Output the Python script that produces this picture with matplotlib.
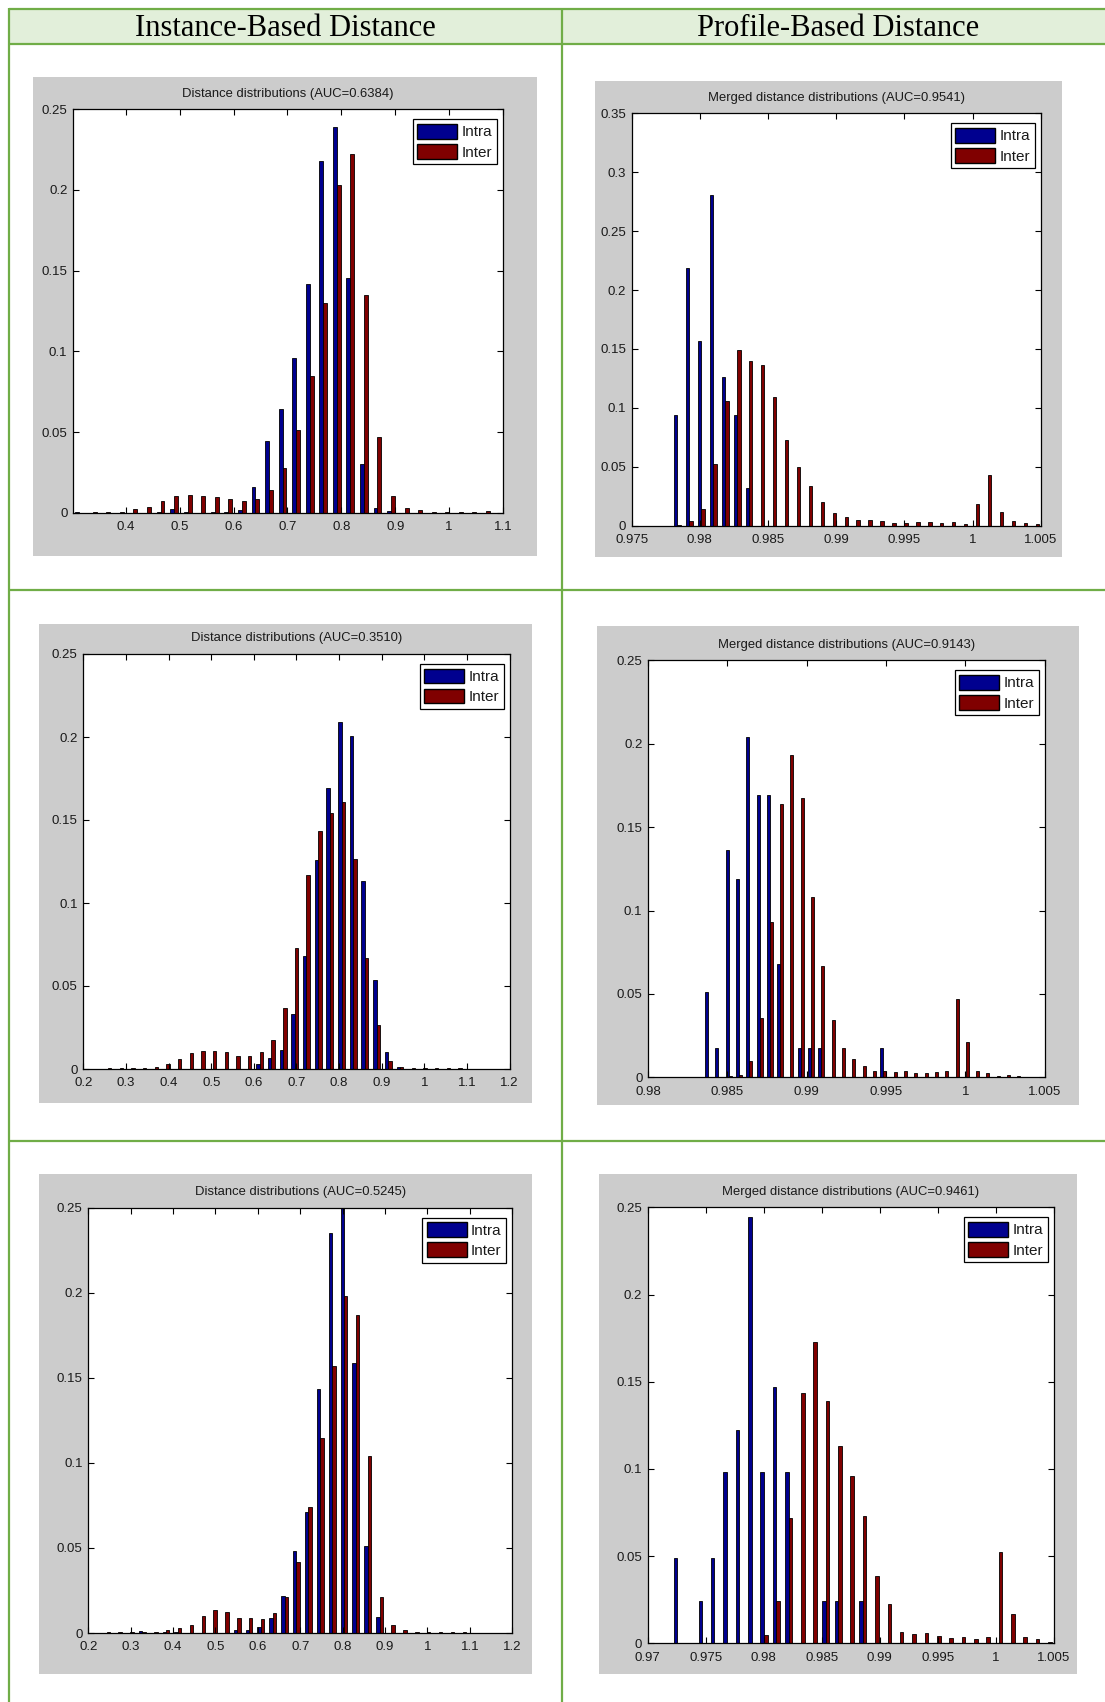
import matplotlib
matplotlib.use("Agg")
import matplotlib.pyplot as plt
import numpy as np
from matplotlib.patches import Rectangle, Patch
from matplotlib.lines import Line2D
from matplotlib.ticker import FuncFormatter
from matplotlib import font_manager

# ---- data (histogram bin heights, 31 bins each) ----
headers = ["Instance-Based Distance", "Profile-Based Distance"]
series_names = ["Intra", "Inter"]

titles = [
    "Distance distributions (AUC=0.6384)",
    "Merged distance distributions (AUC=0.9541)",
    "Distance distributions (AUC=0.3510)",
    "Merged distance distributions (AUC=0.9143)",
    "Distance distributions (AUC=0.5245)",
    "Merged distance distributions (AUC=0.9461)",
]

# first / last bin centre of each histogram
bin_range = [
    (0.3135, 1.0683),
    (0.97835, 1.00462),
    (0.2578, 1.0795),
    (0.98378, 1.00328),
    (0.2432, 1.0828),
    (0.97256, 1.0045),
]

intra1 = [0.0005, 0, 0, 0, 0, 0, 0.0005, 0.0025, 0.0005, 0, 0.0005, 0.0005, 0.0015,
          0.016, 0.0446, 0.0645, 0.0959, 0.142, 0.218, 0.239, 0.1457, 0.0302, 0.003,
          0.001, 0, 0, 0, 0, 0, 0, 0]
inter1 = [0, 0.0005, 0.0005, 0.0005, 0.0025, 0.0037, 0.007, 0.0103, 0.011, 0.0103,
          0.0095, 0.0083, 0.0074, 0.0087, 0.0138, 0.0279, 0.0512, 0.085, 0.130, 0.203,
          0.2225, 0.1347, 0.0471, 0.0101, 0.003, 0.0015, 0.0005, 0.0005, 0.0005,
          0.0005, 0.0008]

intra2 = [0.0942, 0.219, 0.157, 0.281, 0.126, 0.094, 0.032, 0, 0, 0, 0, 0, 0, 0, 0,
          0, 0, 0, 0, 0, 0, 0, 0, 0, 0, 0, 0, 0, 0, 0, 0]
inter2 = [0.001, 0.004, 0.0144, 0.0523, 0.1055, 0.149, 0.140, 0.136, 0.1095, 0.0727,
          0.050, 0.0337, 0.020, 0.0105, 0.0075, 0.005, 0.005, 0.004, 0.0023, 0.002,
          0.0033, 0.0033, 0.0023, 0.003, 0.0012, 0.018, 0.0433, 0.0113, 0.004,
          0.0025, 0.0015]

intra3 = [0, 0, 0, 0, 0, 0, 0, 0, 0, 0, 0, 0, 0, 0.003, 0.0066, 0.0116, 0.033, 0.068,
          0.126, 0.169, 0.209, 0.2006, 0.1135, 0.0534, 0.0102, 0.0013, 0, 0, 0, 0, 0]
inter3 = [0.0005, 0.0005, 0.0005, 0.0005, 0.0014, 0.003, 0.006, 0.0096, 0.011, 0.011,
          0.0104, 0.008, 0.008, 0.0102, 0.0175, 0.037, 0.073, 0.117, 0.1436, 0.154,
          0.161, 0.1267, 0.0667, 0.0265, 0.005, 0.0013, 0.0005, 0.0005, 0.0005,
          0.0005, 0.0005]

intra4 = [0.0512, 0.0176, 0.136, 0.119, 0.204, 0.1695, 0.1695, 0.068, 0, 0.0176,
          0.0176, 0.0176, 0, 0, 0, 0, 0, 0.0176, 0, 0, 0, 0, 0, 0, 0, 0, 0, 0, 0, 0, 0]
inter4 = [0, 0, 0.0006, 0.0014, 0.0096, 0.0358, 0.0931, 0.1637, 0.193, 0.1675,
          0.1083, 0.0665, 0.0344, 0.0176, 0.011, 0.0066, 0.0038, 0.0038, 0.003,
          0.0038, 0.0024, 0.0024, 0.003, 0.0038, 0.0468, 0.0212, 0.0038, 0.0024,
          0.0008, 0.0014, 0.0008]

intra5 = [0, 0, 0, 0.0013, 0, 0.0005, 0.0008, 0, 0, 0, 0, 0.0016, 0.0016, 0.0035,
          0.009, 0.022, 0.0484, 0.0711, 0.1434, 0.2353, 0.26, 0.1587, 0.0513, 0.0096,
          0, 0, 0, 0, 0, 0, 0]
inter5 = [0.0005, 0.0005, 0.0005, 0.0005, 0.0005, 0.0016, 0.003, 0.0045, 0.0098,
          0.0133, 0.0125, 0.009, 0.009, 0.0084, 0.0118, 0.0214, 0.042, 0.074, 0.1148,
          0.1571, 0.198, 0.187, 0.1038, 0.0214, 0.0045, 0.0016, 0.0008, 0.0008,
          0.0005, 0.0005, 0.0005]

intra6 = [0.0487, 0, 0.0244, 0.0487, 0.098, 0.1223, 0.2443, 0.098, 0.147, 0.098, 0, 0,
          0.0243, 0.0243, 0, 0.0243, 0, 0, 0, 0, 0, 0, 0, 0, 0, 0, 0, 0, 0, 0, 0]
inter6 = [0, 0, 0, 0, 0, 0, 0, 0.005, 0.0243, 0.0717, 0.1433, 0.1726, 0.139, 0.1133,
          0.096, 0.0732, 0.0388, 0.0226, 0.0065, 0.0052, 0.0057, 0.0044, 0.003, 0.0034,
          0.0023, 0.0034, 0.0526, 0.0168, 0.0034, 0.0025, 0.0008]

intra_all = [intra1, intra2, intra3, intra4, intra5, intra6]
inter_all = [inter1, inter2, inter3, inter4, inter5, inter6]

xlims = [(0.302, 1.1), (0.975, 1.005), (0.2, 1.2), (0.98, 1.005), (0.2, 1.2), (0.97, 1.005)]
ylims = [(0, 0.25), (0, 0.35), (0, 0.25), (0, 0.25), (0, 0.25), (0, 0.25)]
xtick_vals = [
    [0.4, 0.5, 0.6, 0.7, 0.8, 0.9, 1.0, 1.1],
    [0.975, 0.98, 0.985, 0.99, 0.995, 1.0, 1.005],
    [0.2, 0.3, 0.4, 0.5, 0.6, 0.7, 0.8, 0.9, 1.0, 1.1, 1.2],
    [0.98, 0.985, 0.99, 0.995, 1.0, 1.005],
    [0.2, 0.3, 0.4, 0.5, 0.6, 0.7, 0.8, 0.9, 1.0, 1.1, 1.2],
    [0.97, 0.975, 0.98, 0.985, 0.99, 0.995, 1.0, 1.005],
]
ytick_vals = [
    [0, 0.05, 0.1, 0.15, 0.2, 0.25],
    [0, 0.05, 0.1, 0.15, 0.2, 0.25, 0.3, 0.35],
    [0, 0.05, 0.1, 0.15, 0.2, 0.25],
    [0, 0.05, 0.1, 0.15, 0.2, 0.25],
    [0, 0.05, 0.1, 0.15, 0.2, 0.25],
    [0, 0.05, 0.1, 0.15, 0.2, 0.25],
]

# ---- layout (pixels in the 1105 x 1702 page) ----
W, H = 1105, 1702
panels = [(33, 77, 537, 556), (595, 81, 1062, 557),
          (39, 624, 532, 1103), (597, 626, 1079, 1105),
          (39, 1174, 532, 1674), (599, 1174, 1077, 1674)]
axboxes = [(73, 109.3, 503, 512.7), (631.7, 113.3, 1040.7, 525.7),
           (83.3, 654, 509.7, 1069), (648, 660.3, 1044.7, 1077.3),
           (88.3, 1207.7, 512.3, 1633), (647.7, 1207.3, 1054, 1643.3)]

GREEN = "#70AD47"
HEAD_BG = "#E2EFDA"
GRAY = "#CCCCCC"
BLUE = "#00008F"
RED = "#800000"
TXT = "#1a1a1a"

names = {f.name for f in font_manager.fontManager.ttflist}
SANS = "Liberation Sans Narrow" if "Liberation Sans Narrow" in names else "Liberation Sans"
narrow = SANS == "Liberation Sans Narrow"
plt.rcParams["font.family"] = [SANS, "DejaVu Sans"]


def fx(px):
    return px / W


def fy(py):
    return 1 - py / H


def add_rect(fig, x0, y0, x1, y1, color):
    fig.add_artist(Rectangle((fx(x0), fy(y1)), fx(x1) - fx(x0), fy(y0) - fy(y1),
                             transform=fig.transFigure, facecolor=color,
                             edgecolor="none", zorder=0))


def add_line(fig, x0, y0, x1, y1):
    fig.add_artist(Line2D([fx(x0), fx(x1)], [fy(y0), fy(y1)], transform=fig.transFigure,
                          color=GREEN, lw=1.6, solid_capstyle="butt", zorder=1))


fig = plt.figure(figsize=(W / 100, H / 100), dpi=100)
fig.patch.set_facecolor("white")

# table: header band and green rules
add_rect(fig, 8.7, 8.7, W, 44, HEAD_BG)
add_line(fig, 8.7, 8.7, W, 8.7)
add_line(fig, 8.7, 44, W, 44)
add_line(fig, 8.7, 590, W, 590)
add_line(fig, 8.7, 1141, W, 1141)
add_line(fig, 8.7, 8, 8.7, H)
add_line(fig, 562, 8, 562, H)
fig.text(fx(285), fy(28), headers[0], ha="center", va="center",
         family="Liberation Serif", fontsize=22, color="black")
fig.text(fx(838), fy(28), headers[1], ha="center", va="center",
         family="Liberation Serif", fontsize=22, color="black")

fmt = FuncFormatter(lambda v, p: "%g" % round(v, 4))

for i in range(6):
    add_rect(fig, *panels[i], GRAY)
    l, t, r, b = axboxes[i]
    ax = fig.add_axes([fx(l), fy(b), fx(r) - fx(l), fy(t) - fy(b)])
    ax.set_facecolor("white")
    centers = np.linspace(bin_range[i][0], bin_range[i][1], len(intra_all[i]))
    step = centers[1] - centers[0]
    w = 0.29 * step
    ax.bar(centers - w / 2, intra_all[i], width=w, color=BLUE, edgecolor="black",
           linewidth=0.6, label=series_names[0])
    ax.bar(centers + w / 2, inter_all[i], width=w, color=RED, edgecolor="black",
           linewidth=0.6, label=series_names[1])
    ax.set_xlim(*xlims[i])
    ax.set_ylim(*ylims[i])
    ax.set_xticks(xtick_vals[i])
    ax.set_yticks(ytick_vals[i])
    ax.xaxis.set_major_formatter(fmt)
    ax.yaxis.set_major_formatter(fmt)
    ax.tick_params(direction="in", length=4, width=0.8, top=True, right=True,
                   labelsize=10 if narrow else 9.5, labelcolor=TXT)
    ax.tick_params(axis="x", pad=6)
    ax.tick_params(axis="y", pad=4)
    for sp in ax.spines.values():
        sp.set_linewidth(0.9)
        sp.set_color("black")
    ax.set_title(titles[i], fontsize=10.5 if narrow else 9.4, color=TXT, pad=9)

    axw, axh = r - l, b - t
    handles = [Patch(facecolor=BLUE, edgecolor="black", label=series_names[0]),
               Patch(facecolor=RED, edgecolor="black", label=series_names[1])]
    leg = ax.legend(handles=handles, loc="upper right",
                    bbox_to_anchor=(1 - 6 / axw, 1 - 10 / axh), borderaxespad=0,
                    fontsize=11, handlelength=2.6, handleheight=1.1,
                    labelspacing=0.3, borderpad=0.3, handletextpad=0.3,
                    fancybox=False, framealpha=1, edgecolor="black")
    leg.get_frame().set_linewidth(0.9)
    for txt in leg.get_texts():
        txt.set_color(TXT)

fig.savefig("out.png", dpi=100)
